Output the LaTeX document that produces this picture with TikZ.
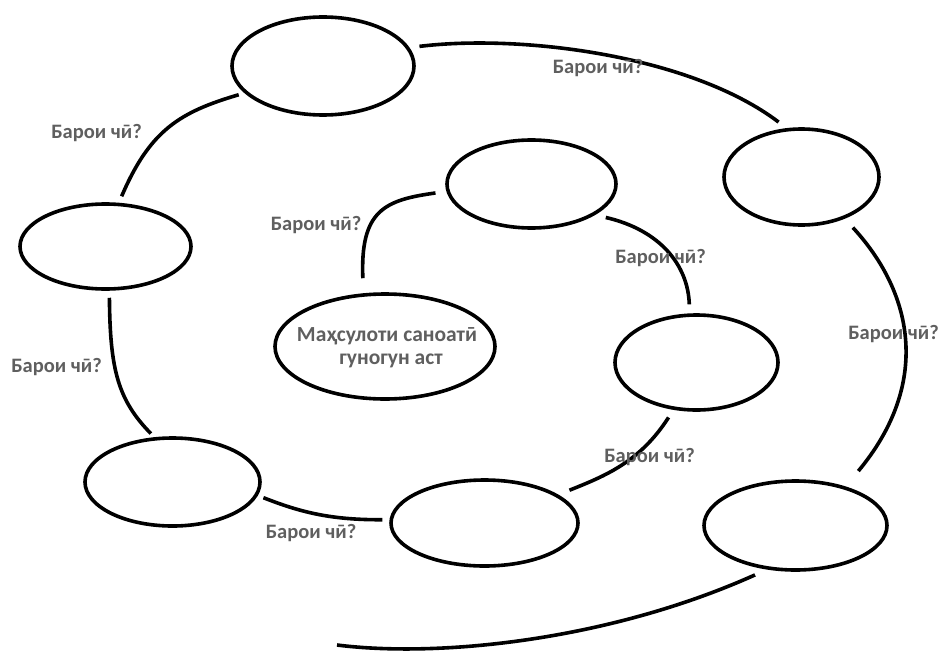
\documentclass[tikz,border=0pt]{standalone}
\usepackage{fontspec}
\setmainfont{Carlito}
\usetikzlibrary{shapes.geometric}
\definecolor{lblgray}{RGB}{95,95,95}
\begin{document}
\begin{tikzpicture}[x=1pt,y=-1pt,
  oval/.style={draw=black,line width=3.6pt,ellipse,inner sep=0pt},
  conn/.style={draw=black,line width=3.6pt},
  lbl/.style={text=lblgray,font=\fontsize{20.5}{24}\selectfont\bfseries,inner sep=0pt,anchor=base},
  ctext/.style={lbl,font=\fontsize{21.5}{25}\selectfont\bfseries}]
\useasboundingbox (0,0) rectangle (941,650);
% ellipses
\node[oval,minimum width=182pt,minimum height=98pt] (e1) at (323,66) {};
\node[oval,minimum width=171pt,minimum height=85pt] (e2) at (105.5,246.5) {};
\node[oval,minimum width=169pt,minimum height=88pt] (e3) at (531.5,184) {};
\node[oval,minimum width=155pt,minimum height=96pt] (e4) at (801.5,177) {};
\node[oval,minimum width=220pt,minimum height=105pt] (e5) at (385,346.5) {};
\node[oval,minimum width=163pt,minimum height=95pt] (e6) at (696.5,362.5) {};
\node[oval,minimum width=175pt,minimum height=88pt] (e7) at (172.5,482) {};
\node[oval,minimum width=187pt,minimum height=86pt] (e8) at (484.5,523) {};
\node[oval,minimum width=183pt,minimum height=89pt] (e9) at (795.5,525.5) {};
% centre text
\node[ctext] (t5a) at (387,341) {Маҳсулоти саноатӣ};
\node[ctext] (t5b) at (391,364) {гуногун аст};
% free end
\coordinate (c9end) at (337,645);
% connectors
\draw[conn,shorten <=10pt,shorten >=10pt] (e1.12) .. controls (520,34) and (690,55) .. (e4.107);
\draw[conn,shorten <=6pt,shorten >=7pt] (e1.199) .. controls (180,112) and (150,130) .. (e2.73);
\draw[conn,shorten <=7pt,shorten >=5pt] (e2.-85) .. controls (110,370) and (118,400) .. (e7.112);
\draw[conn,shorten <=6pt,shorten >=7pt] (e7.-9) .. controls (300,512) and (330,520) .. (e8.178);
\draw[conn,shorten <=12pt,shorten >=9pt] (e8.21) .. controls (605,476) and (640,462) .. (e6.244);
\draw[conn,shorten <=9pt,shorten >=11pt] (e6.98) .. controls (688,265) and (660,230) .. (e3.-26);
\draw[conn,shorten <=11pt,shorten >=15pt] (e3.185) .. controls (385,200) and (360,210) .. (e5.112);
\draw[conn,shorten <=12pt,shorten >=20pt] (e4.-44) .. controls (915,295) and (930,385) .. (e9.38);
\draw[conn,shorten <=13pt] (e9.237) .. controls (610,640) and (440,658) .. (c9end);
% labels
\node[lbl] (l1) at (598,74) {Барои чӣ?};
\node[lbl] (l2) at (96.5,139) {Барои чӣ?};
\node[lbl] (l3) at (56.5,372) {Барои чӣ?};
\node[lbl] (l4) at (311,538) {Барои чӣ?};
\node[lbl] (l5) at (649.5,462) {Барои чӣ?};
\node[lbl] (l6) at (660.5,263) {Барои чӣ?};
\node[lbl] (l7) at (316,230) {Барои чӣ?};
\node[lbl] (l8) at (893.5,339) {Барои чӣ?};
\end{tikzpicture}
\end{document}
